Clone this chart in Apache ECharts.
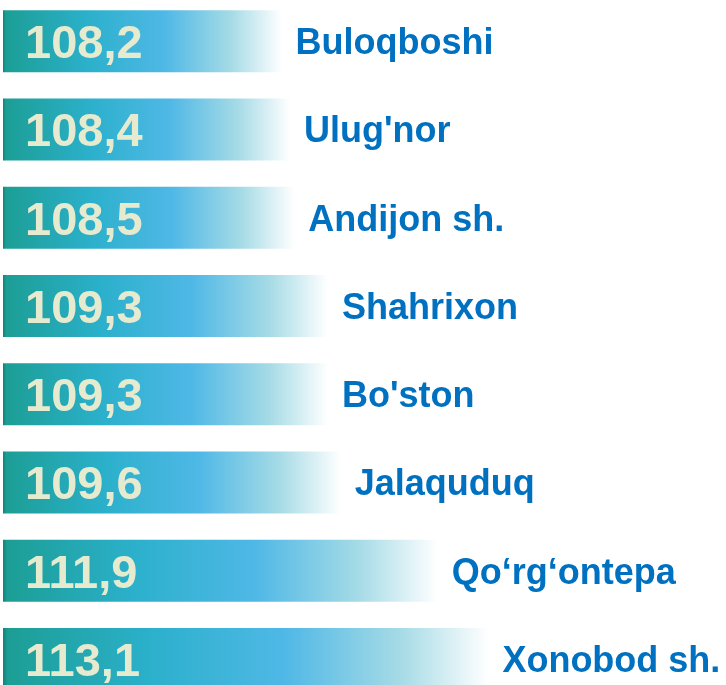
<!DOCTYPE html>
<html><head><meta charset="utf-8">
<script src="https://cdn.jsdelivr.net/npm/echarts@6/dist/echarts.min.js"></script>
<style>html,body{margin:0;padding:0;background:#fff;overflow:hidden}#c{position:absolute;left:0;top:-3px;width:726px;height:706px}</style>
</head><body><div id="c"></div>
<script>
const categories = ["Buloqboshi","Ulug'nor","Andijon sh.","Shahrixon","Bo'ston","Jalaquduq","Qo\u2018rg\u2018ontepa","Xonobod sh."];
const values = [108.2,108.4,108.5,109.3,109.3,109.6,111.9,113.1];
const valueLabels = ["108,2","108,4","108,5","109,3","109,3","109,6","111,9","113,1"];

const grad = {type:'linear',x:0,y:0,x2:1,y2:0,colorStops:[
  {offset:0,color:'#12847a'},{offset:0.01,color:'#1c9e95'},
  {offset:0.3,color:'#2bb0cb'},{offset:0.58,color:'#4fb8e6'},
  {offset:0.82,color:'#a6dbe6'},{offset:1,color:'#ffffff'}]};

const chart = echarts.init(document.getElementById('c'));
chart.setOption({
  animation:false,
  grid:{left:3,width:650,top:0,bottom:0},
  xAxis:{type:'value',min:101.6,max:117,show:false},
  yAxis:{type:'category',data:categories,inverse:true,show:false},
  series:[
    {type:'bar',data:values,barWidth:62,itemStyle:{color:grad},
     label:{show:true,position:'insideLeft',distance:22,offset:[0,4],
       formatter:p=>valueLabels[p.dataIndex],
       fontFamily:'Liberation Sans, Arial, sans-serif',fontWeight:'bold',fontSize:47,color:'#e6ebcf'}},
    {type:'bar',data:values,barWidth:62,barGap:'-100%',itemStyle:{color:'rgba(0,0,0,0)'},
     label:{show:true,position:'right',distance:14,offset:[0,3],
       formatter:p=>categories[p.dataIndex],
       fontFamily:'Liberation Sans, Arial, sans-serif',fontWeight:'bold',fontSize:36,color:'#0070c0'}}
  ]
});
</script></body></html>
